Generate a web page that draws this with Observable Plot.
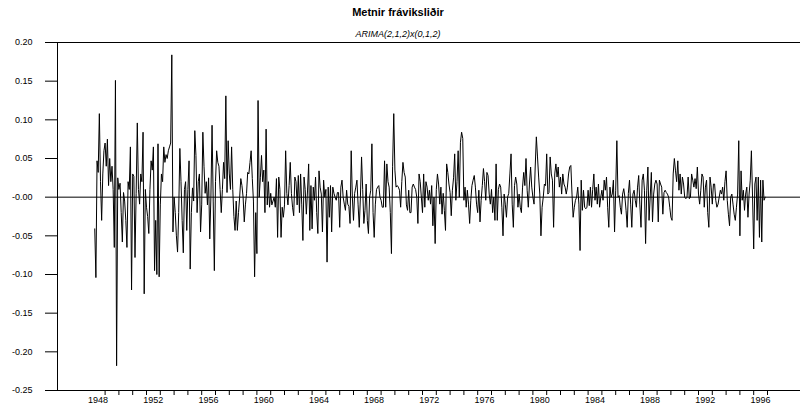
<!DOCTYPE html>
<html><head><meta charset="utf-8">
<script src="https://cdn.jsdelivr.net/npm/d3@7"></script>
<script src="https://cdn.jsdelivr.net/npm/@observablehq/plot@0.6"></script>
<style>
body{margin:0;background:#fff;font-family:"Liberation Sans",Arial,sans-serif}
svg{display:block}
</style>
</head><body><div id="chart"></div>
<script>
const title = "Metnir fráviksliðir";
const subtitle = "ARIMA(2,1,2)x(0,1,2)";
const startYear = 1947;
const startMonth = 4;
const residuals = [
-0.041,-0.104,0.047,0.032,0.108,0.02,-0.03,0.03,0.06,0.07,0.04,0.075,0.015,0.05,0.02,0.04,0.01,-0.065,0.151,-0.218,
0.025,0.01,0.018,-0.02,-0.058,0.006,-0.005,-0.03,-0.065,0.02,0.01,0.065,-0.12,0.03,0.027,-0.078,0.005,0.096,0.01,-0.009,
0.03,0.02,0.084,-0.125,0.01,-0.013,-0.025,-0.047,0.01,0.047,0.035,0.065,-0.095,-0.03,-0.1,0.069,-0.103,-0.01,0.03,0.02,
0.065,0.045,0.055,0.05,0.06,0.065,0.07,0.184,-0.045,0.0,-0.02,-0.05,-0.071,-0.02,0.063,0.02,-0.03,-0.072,0.01,0.02,
-0.043,0.01,0.047,-0.093,-0.02,0.012,-0.005,0.086,0.054,-0.02,0.02,0.03,-0.045,-0.01,0.084,0.04,0.005,0.02,-0.01,0.025,
-0.054,0.0,0.093,-0.005,-0.095,0.02,0.06,0.045,0.04,0.01,-0.02,0.01,0.045,0.024,0.131,0.006,0.073,0.03,0.01,0.065,
0.01,-0.025,-0.043,-0.005,-0.043,-0.02,0.0,0.024,0.015,0.0,-0.032,-0.01,0.005,0.032,0.03,0.045,0.06,0.024,-0.005,-0.103,
-0.02,-0.073,0.125,0.0,0.025,0.054,0.02,0.035,-0.02,0.088,-0.01,0.02,-0.013,0.005,-0.01,-0.005,0.0,-0.013,0.024,-0.052,
0.026,0.01,-0.052,-0.013,-0.026,-0.01,0.06,0.005,-0.01,0.015,0.045,0.005,-0.013,-0.024,0.026,0.02,-0.01,0.028,-0.02,0.03,
-0.01,-0.056,0.026,0.01,-0.022,0.008,0.043,-0.043,0.015,-0.041,0.013,-0.004,0.026,-0.02,-0.047,0.034,0.013,0.004,-0.045,0.022,
0.0,0.01,-0.084,0.013,-0.026,0.015,-0.045,0.013,0.005,0.0,-0.004,0.006,0.006,-0.039,0.013,0.022,0.0,-0.009,-0.017,0.009,
-0.009,-0.012,-0.034,0.06,0.0,-0.03,0.005,0.013,0.022,-0.01,-0.039,0.0,0.052,0.01,-0.034,-0.017,0.017,-0.03,-0.047,0.0,
0.009,0.069,-0.02,-0.052,-0.009,0.01,0.013,0.015,0.0,-0.004,-0.013,-0.013,0.047,-0.013,0.043,0.02,0.013,-0.02,-0.073,0.04,
0.108,0.035,0.013,0.015,0.013,0.009,-0.013,0.02,0.045,0.032,0.026,-0.01,-0.017,0.009,-0.02,-0.02,0.013,0.017,0.013,0.01,
0.0,-0.034,0.03,0.02,0.0,-0.02,0.03,-0.013,0.02,0.013,-0.004,0.009,-0.009,0.015,-0.037,0.0,-0.06,0.01,0.03,0.017,
-0.009,0.013,-0.022,0.005,-0.017,-0.043,0.043,0.032,0.017,0.006,-0.024,0.009,0.025,0.056,-0.004,0.02,0.06,0.0,0.071,0.084,
0.076,-0.004,0.013,-0.013,0.009,-0.009,-0.034,-0.004,0.015,0.022,0.028,0.013,-0.009,-0.02,0.009,-0.032,-0.004,0.015,0.037,0.02,
-0.004,0.032,0.028,0.004,-0.009,0.01,-0.02,0.0,-0.03,0.043,-0.03,0.01,0.017,0.013,-0.013,-0.05,0.004,-0.009,-0.026,0.0,
0.005,0.03,0.056,-0.009,-0.039,0.015,0.026,0.017,-0.013,0.004,-0.013,-0.02,0.013,0.032,0.015,0.05,0.009,-0.013,0.017,0.039,
0.013,0.0,-0.009,0.039,0.078,0.052,0.026,0.004,-0.05,-0.013,0.0,0.017,0.015,0.056,0.004,0.006,0.052,0.03,0.022,-0.039,
0.03,0.043,0.026,0.039,0.013,0.026,0.004,0.03,0.017,0.013,0.004,0.013,0.03,0.039,0.041,0.004,-0.026,-0.013,-0.004,0.0,
0.013,-0.009,-0.069,0.022,-0.017,0.009,-0.013,-0.015,-0.013,0.009,-0.011,0.013,-0.013,0.01,0.03,-0.004,0.013,-0.009,0.017,-0.013,
0.0,0.009,-0.004,0.022,0.009,0.026,-0.013,-0.039,0.013,0.0,0.004,0.022,-0.045,0.009,0.073,0.0,0.002,-0.013,-0.022,0.004,
0.011,0.0,-0.017,-0.039,0.005,0.022,-0.009,-0.039,0.004,0.009,-0.004,-0.013,0.013,0.028,-0.01,-0.039,0.022,0.03,0.009,-0.06,
0.009,0.039,-0.03,0.0,0.032,-0.032,0.004,0.017,0.022,0.017,-0.032,0.022,0.017,0.013,-0.022,0.006,0.009,0.006,0.004,0.0,
-0.013,-0.026,-0.03,0.03,0.05,0.034,0.02,0.047,0.009,0.03,0.004,0.026,0.017,0.0,-0.002,0.0,0.026,-0.002,0.0,0.03,
0.022,0.013,0.024,0.011,0.039,0.004,-0.009,0.009,0.03,0.026,-0.013,0.013,0.022,-0.02,-0.039,0.026,0.013,-0.009,0.017,0.017,
-0.004,-0.013,-0.009,0.0,0.009,0.004,0.013,-0.004,0.02,0.034,-0.004,-0.022,-0.037,0.0,0.004,-0.009,-0.022,-0.03,-0.013,0.004,
0.073,-0.05,0.034,-0.004,0.009,-0.017,0.004,0.013,-0.026,0.004,0.022,0.06,0.0,-0.067,0.017,0.026,-0.03,0.026,-0.052,0.022,
-0.058,0.022,-0.004,0.0
];
const yTicks = [0.20,0.15,0.10,0.05,0,-0.05,-0.10,-0.15,-0.20,-0.25];
const yTickLabels = ["0.20","0.15","0.10","0.05","-0.00","-0.05","-0.10","-0.15","-0.20","-0.25"];
const xTickYears = d3.range(1948, 1997);
const xLabelYears = [1948,1952,1956,1960,1964,1968,1972,1976,1980,1984,1988,1992,1996];

const data = residuals.map((v, i) => ({t: startYear + (startMonth - 1 + i) / 12, v}));

// x scale: 1948 at px 104.6, 13.8 px per year, plot area 57..800
const pxPerYear = 13.8;
const xLeft = 1948 - (104.6 - 57) / pxPerYear;
const xRight = 1948 + (800 - 104.6) / pxPerYear;

const chart = Plot.plot({
  width: 800,
  height: 407,
  marginTop: 42,
  marginBottom: 17,
  marginLeft: 57,
  marginRight: 0,
  style: {fontFamily: '"Liberation Sans", Arial, sans-serif', background: "#fff", color: "#000"},
  x: {domain: [xLeft, xRight], label: null},
  y: {domain: [-0.25, 0.20], label: null},
  marks: [
    Plot.axisY(yTicks, {tickSize: 12, tickPadding: 13, fontSize: 9, label: null, tickFormat: d => yTickLabels[yTicks.indexOf(d)], strokeWidth: 1}),
    Plot.axisX(xTickYears, {tickSize: 5, label: null, tickFormat: () => "", strokeWidth: 1}),
    Plot.axisX(xLabelYears, {tickSize: 0, tickPadding: 6, fontSize: 9, label: null, tickFormat: d => String(d), dx: -7}),
    Plot.ruleY([0.20, -0.25, 0], {stroke: "#000", strokeWidth: 1}),
    Plot.ruleX([xLeft], {stroke: "#000", strokeWidth: 1}),
    Plot.line(data, {x: "t", y: "v", stroke: "#000", strokeWidth: 1})
  ]
});
document.getElementById("chart").appendChild(chart);

// title and subtitle as SVG text within top margin
const svg = d3.select(chart);
svg.append("text").attr("x", 398).attr("y", 16).attr("text-anchor", "middle")
  .attr("font-size", 11).attr("font-weight", "bold").attr("font-family", '"Liberation Sans", Arial, sans-serif').text(title);
svg.append("text").attr("x", 398).attr("y", 37).attr("text-anchor", "middle")
  .attr("font-size", 9).attr("font-style", "italic").attr("font-family", '"Liberation Sans", Arial, sans-serif').text(subtitle);
</script>
</body></html>
